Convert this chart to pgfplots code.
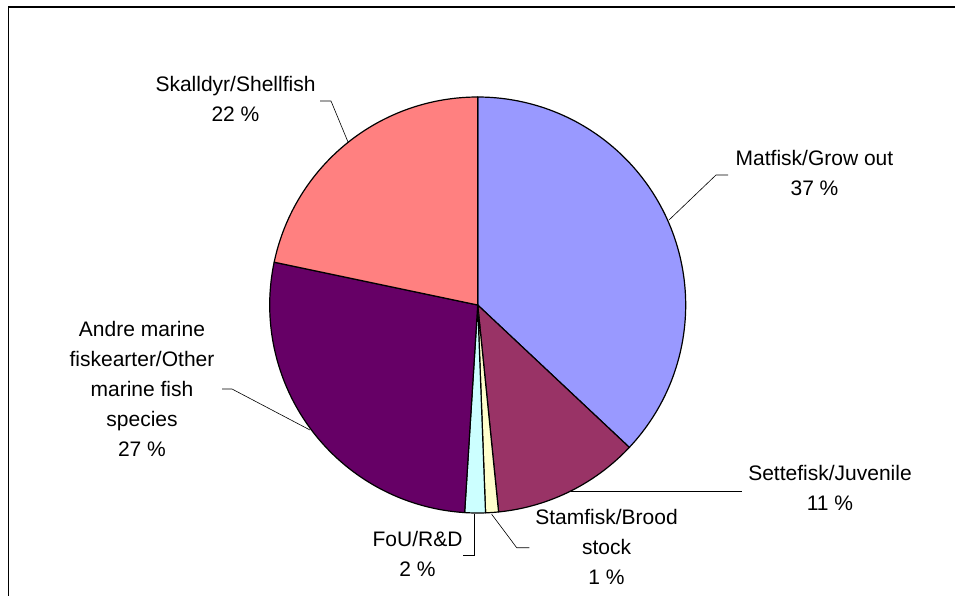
\documentclass[border=0pt]{standalone}
\usepackage{pgfplots}
\pgfplotsset{compat=1.18}
\usepackage{fontspec}
\setmainfont{Liberation Sans}
\definecolor{cMat}{HTML}{9999FF}
\definecolor{cSet}{HTML}{993366}
\definecolor{cSta}{HTML}{FFFFCC}
\definecolor{cFoU}{HTML}{CCFFFF}
\definecolor{cAnd}{HTML}{660066}
\definecolor{cSka}{HTML}{FF8080}
\newcommand{\cx}{477.7}
\newcommand{\cy}{305}
\newcommand{\R}{208}
\newcommand{\lbl}{\fontsize{21bp}{30bp}\selectfont}
\def\curang{90}
% #1 = share in percent, #2 = colour
\newcommand{\slice}[2]{%
  \pgfmathsetmacro\sA{\curang}%
  \pgfmathsetmacro\sB{\curang-3.6*#1}%
  \edef\temp{\noexpand\addplot[fill=#2, draw=black, line width=1.2bp, line join=round, domain=\sB:\sA, samples=120] ({\cx+\R*cos(x)},{\cy-\R*sin(x)}) -- (axis cs:\cx,\cy) -- cycle;}%
  \temp
  \xdef\curang{\sB}%
}
\begin{document}
\begin{tikzpicture}
\begin{axis}[
  hide axis, scale only axis,
  width=955bp, height=596bp,
  xmin=0, xmax=955, ymin=0, ymax=596,
  y dir=reverse, clip=true,
]
% shares (percent), clockwise from 12 o'clock
\slice{37.0}{cMat}  % Matfisk/Grow out
\slice{11.4}{cSet}  % Settefisk/Juvenile
\slice{1.0}{cSta}   % Stamfisk/Brood stock
\slice{1.6}{cFoU}   % FoU/R&D
\slice{27.3}{cAnd}  % Andre marine fiskearter
\slice{21.7}{cSka}  % Skalldyr/Shellfish

% leader lines
\draw[line width=0.6bp] (axis cs:669,220) -- (axis cs:716,175) -- (axis cs:728,175);
\draw[line width=0.6bp] (axis cs:571,491) -- (axis cs:742,491);
\draw[line width=0.6bp] (axis cs:491.7,514.3) -- (axis cs:516.7,547.7) -- (axis cs:529.3,547.7);
\draw[line width=0.6bp] (axis cs:474.3,514) -- (axis cs:474.3,555.3) -- (axis cs:462.7,555.3);
\draw[line width=0.6bp] (axis cs:310,430) -- (axis cs:232,389) -- (axis cs:222,389);
\draw[line width=0.6bp] (axis cs:348,142) -- (axis cs:331,101) -- (axis cs:320,101);

% labels
\node[anchor=north, align=center, inner sep=0pt, font=\lbl] at (axis cs:235.5,76) {Skalldyr/Shellfish\\22 \%};
\node[anchor=north, align=center, inner sep=0pt, font=\lbl] at (axis cs:814.5,150) {Matfisk/Grow out\\37 \%};
\node[anchor=north, align=center, inner sep=0pt, font=\lbl] at (axis cs:830,465) {Settefisk/Juvenile\\11 \%};
\node[anchor=north, align=center, inner sep=0pt, font=\lbl] at (axis cs:606.5,508.7) {Stamfisk/Brood\\stock\\1 \%};
\node[anchor=north, align=center, inner sep=0pt, font=\lbl] at (axis cs:417.5,531) {FoU/R\&D\\2 \%};
\node[anchor=north, align=center, inner sep=0pt, font=\lbl] at (axis cs:142,321.5) {Andre marine\\fiskearter/Other\\marine fish\\species\\27 \%};

% chart frame (right and bottom edges fall outside the picture)
\draw[line width=1.6bp] (axis cs:8.3,700) -- (axis cs:8.3,7) -- (axis cs:1100,7);
\end{axis}
\pgfresetboundingbox
\useasboundingbox (current axis.south west) rectangle (current axis.north east);
\end{tikzpicture}
\end{document}
